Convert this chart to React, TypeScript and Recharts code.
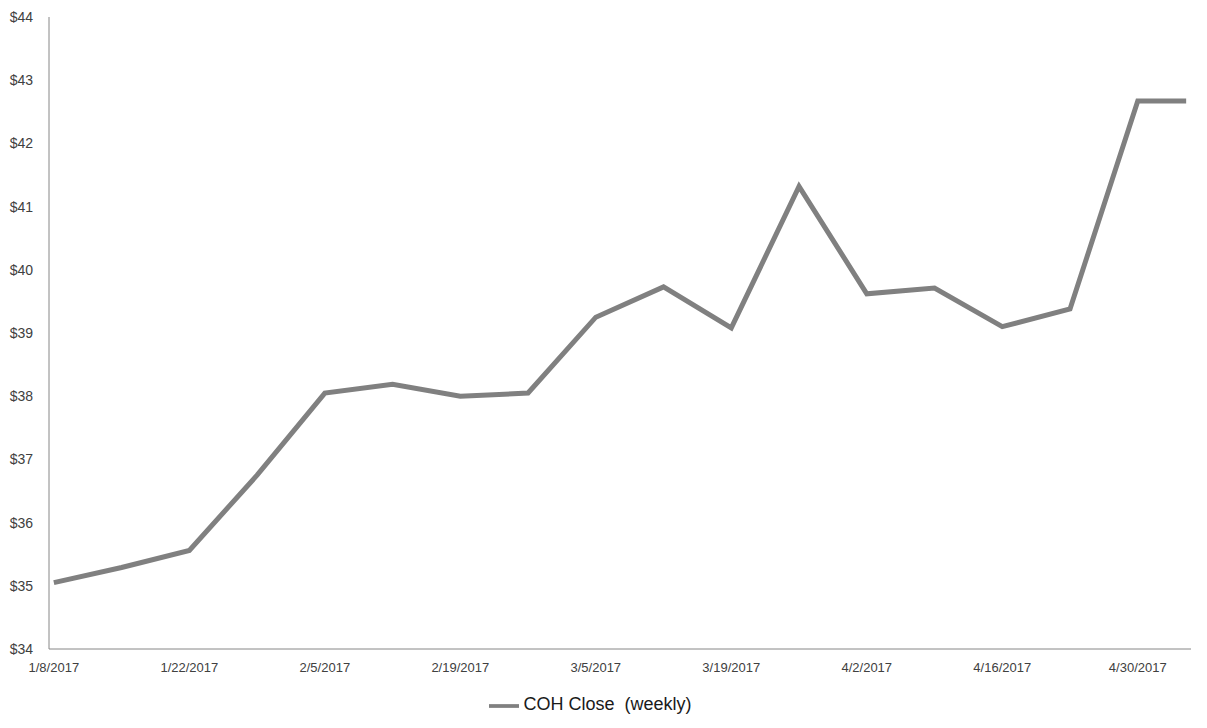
import { LineChart, Line, XAxis, YAxis, Legend } from 'recharts';

const weeks = [
  '2017-01-08', '2017-01-15', '2017-01-22', '2017-01-29', '2017-02-05', '2017-02-12',
  '2017-02-19', '2017-02-26', '2017-03-05', '2017-03-12', '2017-03-19', '2017-03-26',
  '2017-04-02', '2017-04-09', '2017-04-16', '2017-04-23', '2017-04-30', '2017-05-05',
];
const closes = [
  35.05, 35.29, 35.56, 36.75, 38.05, 38.19, 38.0, 38.05, 39.25,
  39.73, 39.08, 41.32, 39.62, 39.71, 39.1, 39.38, 42.67, 42.67,
];
const xTickDates = [
  '2017-01-08', '2017-01-22', '2017-02-05', '2017-02-19', '2017-03-05',
  '2017-03-19', '2017-04-02', '2017-04-16', '2017-04-30',
];
const yTicks = [34, 35, 36, 37, 38, 39, 40, 41, 42, 43, 44];

const DAY = 86400000;
const toDay = (s: string) => Date.UTC(+s.slice(0, 4), +s.slice(5, 7) - 1, +s.slice(8, 10)) / DAY;
const fmtDate = (d: number) => {
  const dt = new Date(d * DAY);
  return `${dt.getUTCMonth() + 1}/${dt.getUTCDate()}/${dt.getUTCFullYear()}`;
};

const data = weeks.map((w, i) => ({ day: toDay(w), close: closes[i] }));
const xTicks = xTickDates.map(toDay);
const first = toDay(weeks[0]);
const last = toDay(weeks[weeks.length - 1]);

const font = "'Liberation Sans', Arial, sans-serif";

export default function App() {
  return (
    <div style={{ margin: -8, width: 1207, height: 728, background: '#fff' }}>
      <LineChart width={1207} height={728} data={data} margin={{ top: 17, right: 16, left: 0, bottom: 10 }}>
        <XAxis
          dataKey="day" type="number" domain={[first - 0.5, last + 0.5]} ticks={xTicks}
          tickFormatter={fmtDate} stroke="#868686" tickLine={false} tickMargin={8}
          tick={{ fontSize: 13, fill: '#404040', fontFamily: font }} height={30}
          interval={0}
        />
        <YAxis
          domain={[34, 44]} ticks={yTicks} tickFormatter={(v: number) => `$${v}`}
          stroke="#868686" tickLine={false} tickMargin={10} width={49}
          tick={{ fontSize: 14, fill: '#404040', fontFamily: font }} interval={0}
        />
        <Legend
          verticalAlign="bottom" height={39} iconType="plainline" iconSize={30}
          wrapperStyle={{ bottom: -2 }}
          formatter={(v) => (
            <span style={{ color: '#1a1a1a', fontSize: 18, fontFamily: font, whiteSpace: 'pre' }}>{v}</span>
          )}
        />
        <Line
          type="linear" dataKey="close" name="COH Close  (weekly)" stroke="#808080"
          strokeWidth={5} dot={false} isAnimationActive={false}
        />
      </LineChart>
    </div>
  );
}
